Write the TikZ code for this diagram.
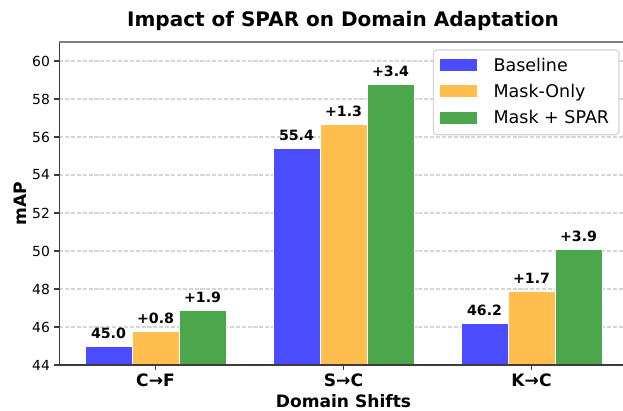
\documentclass[tikz,border=0pt]{standalone}
\usepackage{fontspec}
\setmainfont{DejaVu Sans}
\usepackage{xcolor}
\usetikzlibrary{positioning}
\definecolor{BarBlue}{RGB}{76,76,255}
\definecolor{BarOrange}{RGB}{255,190,77}
\definecolor{BarGreen}{RGB}{76,166,76}
\definecolor{GridGray}{RGB}{214,214,214}
\definecolor{FrameGray}{RGB}{212,212,212}
\definecolor{SpineGray}{RGB}{60,60,60}

\begin{document}
\begin{tikzpicture}[x=0.72pt, y=-0.72pt,
	bar/.style={draw=white, line width=0.25pt},
	gridline/.style={GridGray, line width=0.8pt, dash pattern=on 2.96pt off 1.28pt},
	spine/.style={SpineGray, line width=0.8pt},
	valtext/.style={anchor=base, inner sep=0pt, font=\bfseries\fontsize{10.2}{12}\selectfont},
	ticktext/.style={inner sep=0pt, font=\fontsize{10}{12}\selectfont},
	grouptext/.style={anchor=base, inner sep=0pt, font=\bfseries\fontsize{12.3}{14}\selectfont},
	legtext/.style={anchor=base west, inner sep=0pt, font=\fontsize{12.6}{15}\selectfont}
	]
	\useasboundingbox (0,0) rectangle (623,411);
	% grid and y ticks
	\foreach \v in {46,48,...,60}
		\draw[gridline] (59.15,{365-19*(\v-44)}) -- (623,{365-19*(\v-44)});
	\foreach \v in {44,46,...,60} {
		\draw[spine] (54.3,{365-19*(\v-44)}) -- (59.15,{365-19*(\v-44)});
		\node[ticktext, anchor=east] (ytick-\v) at (50.2,{365-19*(\v-44)}) {\v};
	}
	% bars with value labels
	\foreach \grp/\va/\vb/\vc/\ta/\tb/\tc [count=\i from 0] in {
		cf/45.0/45.8/46.9/45.0/+0.8/+1.9,
		sc/55.4/56.7/58.8/55.4/+1.3/+3.4,
		kc/46.2/47.9/50.1/46.2/+1.7/+3.9} {
		\pgfmathsetmacro{\cx}{155.5+188*\i}
		\draw[bar, fill=BarBlue] ({\cx-70.5},365) rectangle ({\cx-23.5},{365-19*(\va-44)});
		\draw[bar, fill=BarOrange] ({\cx-23.5},365) rectangle ({\cx+23.5},{365-19*(\vb-44)});
		\draw[bar, fill=BarGreen] ({\cx+23.5},365) rectangle ({\cx+70.5},{365-19*(\vc-44)});
		\node[valtext] (val-\grp-a) at ({\cx-47},{365-19*(\va-44)-7.5}) {\ta};
		\node[valtext] (val-\grp-b) at ({\cx},{365-19*(\vb-44)-7.5}) {\tb};
		\node[valtext] (val-\grp-c) at ({\cx+47},{365-19*(\vc-44)-7.5}) {\tc};
		\draw[spine] (\cx,365) -- (\cx,369.9);
	}
	% axes frame
	\draw[spine] (59.15,42) -- (59.15,365) -- (623,365);
	\draw[spine, gray] (59.15,42) -- (623,42);
	% group labels
	\node[grouptext] (grp-cf) at (155.5,386) {C→F};
	\node[grouptext] (grp-sc) at (343.5,386) {S→C};
	\node[grouptext] (grp-kc) at (531.5,386) {K→C};
	\node[grouptext] (xlabel) at (343.5,407) {Domain Shifts};
	\node[grouptext, anchor=center, rotate=90] (ylabel) at (20,204) {mAP};
	\node[anchor=base, inner sep=0pt, font=\bfseries\fontsize{14.4}{17}\selectfont] (title) at (343,27) {Impact of SPAR on Domain Adaptation};
	% legend
	\draw[FrameGray, fill=white, line width=0.8pt, rounded corners=2.5pt] (433.3,50) rectangle (619,134.7);
	\fill[BarBlue] (440,59) rectangle (477,71.3);
	\fill[BarOrange] (440,85.3) rectangle (477,97.5);
	\fill[BarGreen] (440,112) rectangle (477,124.2);
	\node[legtext] (leg-base) at (493.3,71.3) {Baseline};
	\node[legtext] (leg-mask) at (493.3,97.5) {Mask-Only};
	\node[legtext] (leg-spar) at (493.3,124) {Mask + SPAR};
\end{tikzpicture}
\end{document}
